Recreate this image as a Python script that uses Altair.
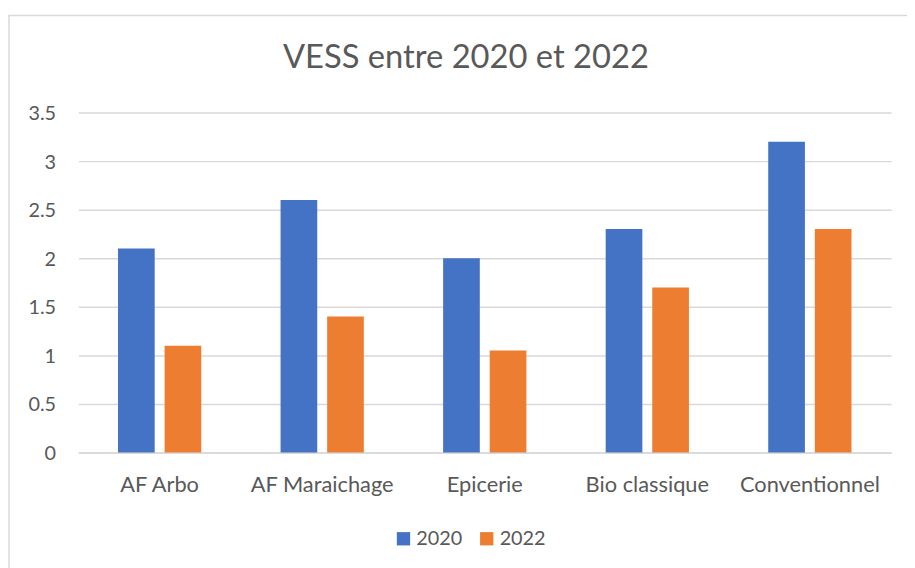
import altair as alt
import pandas as pd

categories = ["AF Arbo", "AF Maraichage", "Epicerie", "Bio classique", "Conventionnel"]
years = ["2020", "2022"]
vess_2020 = [2.1, 2.6, 2.0, 2.3, 3.2]
vess_2022 = [1.1, 1.4, 1.05, 1.7, 2.3]
y_ticks = [0, 0.5, 1, 1.5, 2, 2.5, 3, 3.5]
colors = ["#4472C4", "#ED7D31"]

rows = []
for c, a, b in zip(categories, vess_2020, vess_2022):
    rows.append({"cat": c, "year": "2020", "value": a})
    rows.append({"cat": c, "year": "2022", "value": b})
df = pd.DataFrame(rows)

FONT = "Lato"
TXT = "#595959"
GRID = "#D9D9D9"

bars = alt.Chart(df).mark_bar().encode(
    x=alt.X("cat:N", sort=categories, title=None,
            scale=alt.Scale(paddingInner=0, paddingOuter=0),
            axis=alt.Axis(labelAngle=0, ticks=False, domainColor=GRID, domainWidth=1.5,
                          labelBaseline="alphabetic", labelPadding=39,
                          labelFontSize=22, labelColor=TXT, labelFont=FONT)),
    xOffset=alt.XOffset("year:N", sort=years,
                        scale=alt.Scale(paddingInner=0.2128, paddingOuter=0.851)),
    y=alt.Y("value:Q", title=None,
            scale=alt.Scale(domain=[0, 3.5], nice=False),
            axis=alt.Axis(values=y_ticks, format="~g", ticks=False, domain=False,
                          gridColor=GRID, gridWidth=1.5, labelPadding=23,
                          labelBaseline="alphabetic", labelOffset=7, labelFontSize=20,
                          labelColor=TXT, labelFont=FONT)),
    color=alt.Color("year:N", sort=years, scale=alt.Scale(domain=years, range=colors),
                    legend=alt.Legend(title=None, orient="none", direction="horizontal",
                                      legendX=318, legendY=420, symbolType="square",
                                      symbolSize=180, symbolStrokeWidth=0, labelOffset=3,
                                      columnPadding=14, labelFontSize=20, labelColor=TXT,
                                      labelFont=FONT, padding=0)),
)

frame = alt.Chart(alt.Data(values=[{"f": 1}])).mark_rect(
    fill=None, stroke=GRID, strokeWidth=1.5
).encode(
    x=alt.value(-70), x2=alt.value(860), y=alt.value(-98), y2=alt.value(480)
)

chart = alt.layer(frame, bars).properties(
    width=820, height=343,
    autosize=alt.AutoSizeParams(type="none"),
    padding={"left": 71, "top": 103, "right": 16, "bottom": 114},
    title=alt.TitleParams("VESS entre 2020 et 2022", fontSize=33, font=FONT,
                          fontWeight="normal", color=TXT, anchor="middle",
                          baseline="alphabetic", offset=0, dx=-19, dy=87),
).configure_view(stroke=None)

chart.save("out.html", embed_options={"renderer": "svg", "actions": False})
